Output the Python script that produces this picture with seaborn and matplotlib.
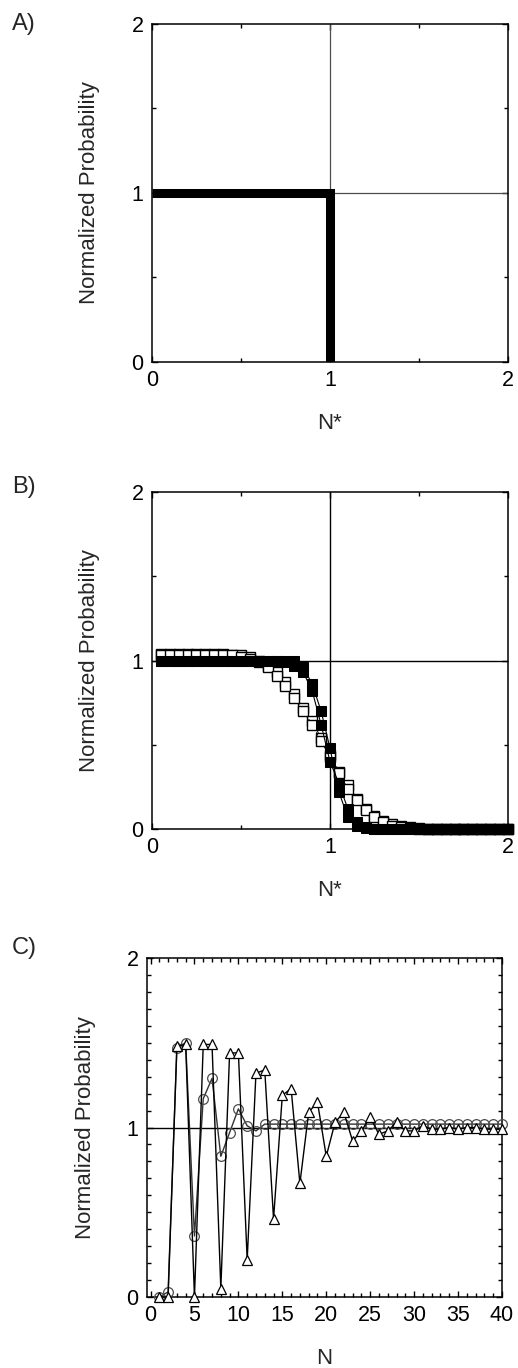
import numpy as np
import seaborn as sns
import matplotlib
matplotlib.use("Agg")
import matplotlib.pyplot as plt
from matplotlib.ticker import MultipleLocator

# data
# A) ideal step
step_x = [0, 1, 1]
step_y = [1, 1, 0]

# B) normalized probability vs N*
n_star = [0.05, 0.10, 0.15, 0.20, 0.25, 0.30, 0.35, 0.40, 0.45, 0.50,
          0.55, 0.60, 0.65, 0.70, 0.75, 0.80, 0.85, 0.90, 0.95, 1.00,
          1.05, 1.10, 1.15, 1.20, 1.25, 1.30, 1.35, 1.40, 1.45, 1.50,
          1.55, 1.60, 1.65, 1.70, 1.75, 1.80, 1.85, 1.90, 1.95, 2.00]
filled_a = [1.0, 1.0, 1.0, 1.0, 1.0, 1.0, 1.0, 1.0, 1.0, 1.0,
            1.0, 1.0, 1.0, 1.0, 1.0, 0.995, 0.96, 0.86, 0.70, 0.48,
            0.22, 0.07, 0.02, 0.005, 0.0, 0.0, 0.0, 0.0, 0.0, 0.0,
            0.0, 0.0, 0.0, 0.0, 0.0, 0.0, 0.0, 0.0, 0.0, 0.0]
filled_b = [1.0, 1.0, 1.0, 1.0, 1.0, 1.0, 1.0, 1.0, 1.0, 1.0,
            1.0, 1.0, 1.0, 1.0, 0.99, 0.97, 0.93, 0.82, 0.62, 0.40,
            0.27, 0.12, 0.04, 0.01, 0.0, 0.0, 0.0, 0.0, 0.0, 0.0,
            0.0, 0.0, 0.0, 0.0, 0.0, 0.0, 0.0, 0.0, 0.0, 0.0]
open_a = [1.04, 1.04, 1.04, 1.04, 1.04, 1.04, 1.04, 1.04, 1.03, 1.03,
          1.02, 1.0, 0.97, 0.93, 0.87, 0.80, 0.72, 0.64, 0.54, 0.44,
          0.34, 0.26, 0.18, 0.12, 0.08, 0.05, 0.03, 0.02, 0.01, 0.005,
          0.0, 0.0, 0.0, 0.0, 0.0, 0.0, 0.0, 0.0, 0.0, 0.0]
open_b = [1.03, 1.03, 1.03, 1.03, 1.03, 1.03, 1.03, 1.03, 1.03, 1.02,
          1.01, 0.99, 0.96, 0.91, 0.85, 0.78, 0.70, 0.62, 0.52, 0.43,
          0.33, 0.24, 0.17, 0.11, 0.07, 0.04, 0.02, 0.01, 0.005, 0.0,
          0.0, 0.0, 0.0, 0.0, 0.0, 0.0, 0.0, 0.0, 0.0, 0.0]

# C) normalized probability vs N
n_vals = list(range(1, 41))
tri_vals = [0.0, 0.0, 1.48, 1.49, 0.0, 1.49, 1.49, 0.05, 1.44, 1.44,
            0.22, 1.32, 1.34, 0.46, 1.19, 1.23, 0.67, 1.09, 1.15, 0.83,
            1.03, 1.09, 0.92, 0.98, 1.06, 0.96, 0.98, 1.03, 0.98, 0.98,
            1.01, 0.99, 0.99, 1.0, 0.99, 1.0, 1.0, 0.99, 0.99, 0.99]
circ_vals = [0.0, 0.03, 1.47, 1.50, 0.36, 1.17, 1.29, 0.83, 0.97, 1.11,
             1.01, 0.98, 1.02, 1.02, 1.02, 1.02, 1.02, 1.02, 1.02, 1.02,
             1.02, 1.02, 1.02, 1.02, 1.02, 1.02, 1.02, 1.02, 1.02, 1.02,
             1.02, 1.02, 1.02, 1.02, 1.02, 1.02, 1.02, 1.02, 1.02, 1.02]

sns.set_style("ticks")
plt.rcParams["font.family"] = ["Liberation Sans", "DejaVu Sans"]

fig = plt.figure(figsize=(5.18, 13.68), dpi=100)
axA = fig.add_axes([0.2934, 0.7354, 0.6873, 0.2471])
axB = fig.add_axes([0.2934, 0.3940, 0.6873, 0.2463])
axC = fig.add_axes([0.2838, 0.0519, 0.6853, 0.2478])


def style_axes(ax, xlab):
    for s in ax.spines.values():
        s.set_linewidth(1.1)
        s.set_color("black")
    ax.tick_params(which="both", direction="in", top=True, right=True,
                   labelsize=15.5, colors="black", pad=6)
    ax.tick_params(which="major", length=4, width=1)
    ax.tick_params(which="minor", length=3, width=1)
    ax.set_ylabel("Normalized Probability", fontsize=16)
    ax.set_xlabel(xlab, fontsize=16)
    ax.yaxis.set_label_coords(-0.145, 0.5)
    ax.xaxis.set_label_coords(0.5, -0.15)


# panel A
axA.axvline(1, color="0.3", lw=0.9, zorder=1)
axA.axhline(1, color="0.3", lw=0.9, zorder=1)
sns.lineplot(x=step_x, y=step_y, sort=False, estimator=None, color="black",
             lw=6.5, solid_joinstyle="miter", solid_capstyle="butt",
             ax=axA, zorder=3)
for ax in (axA, axB):
    ax.set_xlim(0, 2)
    ax.set_ylim(0, 2)
    ax.set_xticks([0, 1, 2])
    ax.set_yticks([0, 1, 2])
    ax.xaxis.set_minor_locator(MultipleLocator(0.5))
    ax.yaxis.set_minor_locator(MultipleLocator(0.5))
style_axes(axA, "N*")

# panel B
axB.axvline(1, color="black", lw=1.0, zorder=1)
axB.axhline(1, color="black", lw=1.0, zorder=1)
for vals in (open_a, open_b):
    sns.lineplot(x=n_star, y=vals, estimator=None, color="black", lw=0.7,
                 ls="--", marker="s", markersize=7, markerfacecolor="white",
                 markeredgecolor="black", markeredgewidth=1.0,
                 ax=axB, zorder=3, clip_on=False)
for vals in (filled_a, filled_b):
    sns.lineplot(x=n_star, y=vals, estimator=None, color="black", lw=0.8,
                 marker="s", markersize=7, markerfacecolor="black",
                 markeredgecolor="black", ax=axB, zorder=4, clip_on=False)
style_axes(axB, "N*")

# panel C
axC.axhline(1, color="black", lw=1.0, zorder=1)
sns.lineplot(x=n_vals, y=circ_vals, estimator=None, color="0.2", lw=1.0,
             marker="o", markersize=7, markerfacecolor="none",
             markeredgecolor="0.3", markeredgewidth=0.9, ax=axC, zorder=3,
             clip_on=False)
sns.lineplot(x=n_vals, y=tri_vals, estimator=None, color="black", lw=1.0,
             marker="^", markersize=7, markerfacecolor="white",
             markeredgecolor="black", markeredgewidth=0.9, ax=axC, zorder=4,
             clip_on=False)
axC.set_xlim(-0.4, 40)
axC.set_ylim(0, 2)
axC.set_xticks(range(0, 41, 5))
axC.set_yticks([0, 1, 2])
axC.xaxis.set_minor_locator(MultipleLocator(1))
axC.yaxis.set_minor_locator(MultipleLocator(0.1))
style_axes(axC, "N")

for ax in (axA, axB, axC):
    leg = ax.get_legend()
    if leg is not None:
        leg.remove()

fig.text(0.023, 1 - 24 / 1368, "A)", fontsize=17, va="center", ha="left")
fig.text(0.023, 1 - 487 / 1368, "B)", fontsize=17, va="center", ha="left")
fig.text(0.023, 1 - 948 / 1368, "C)", fontsize=17, va="center", ha="left")

fig.savefig("out.png", dpi=100)
